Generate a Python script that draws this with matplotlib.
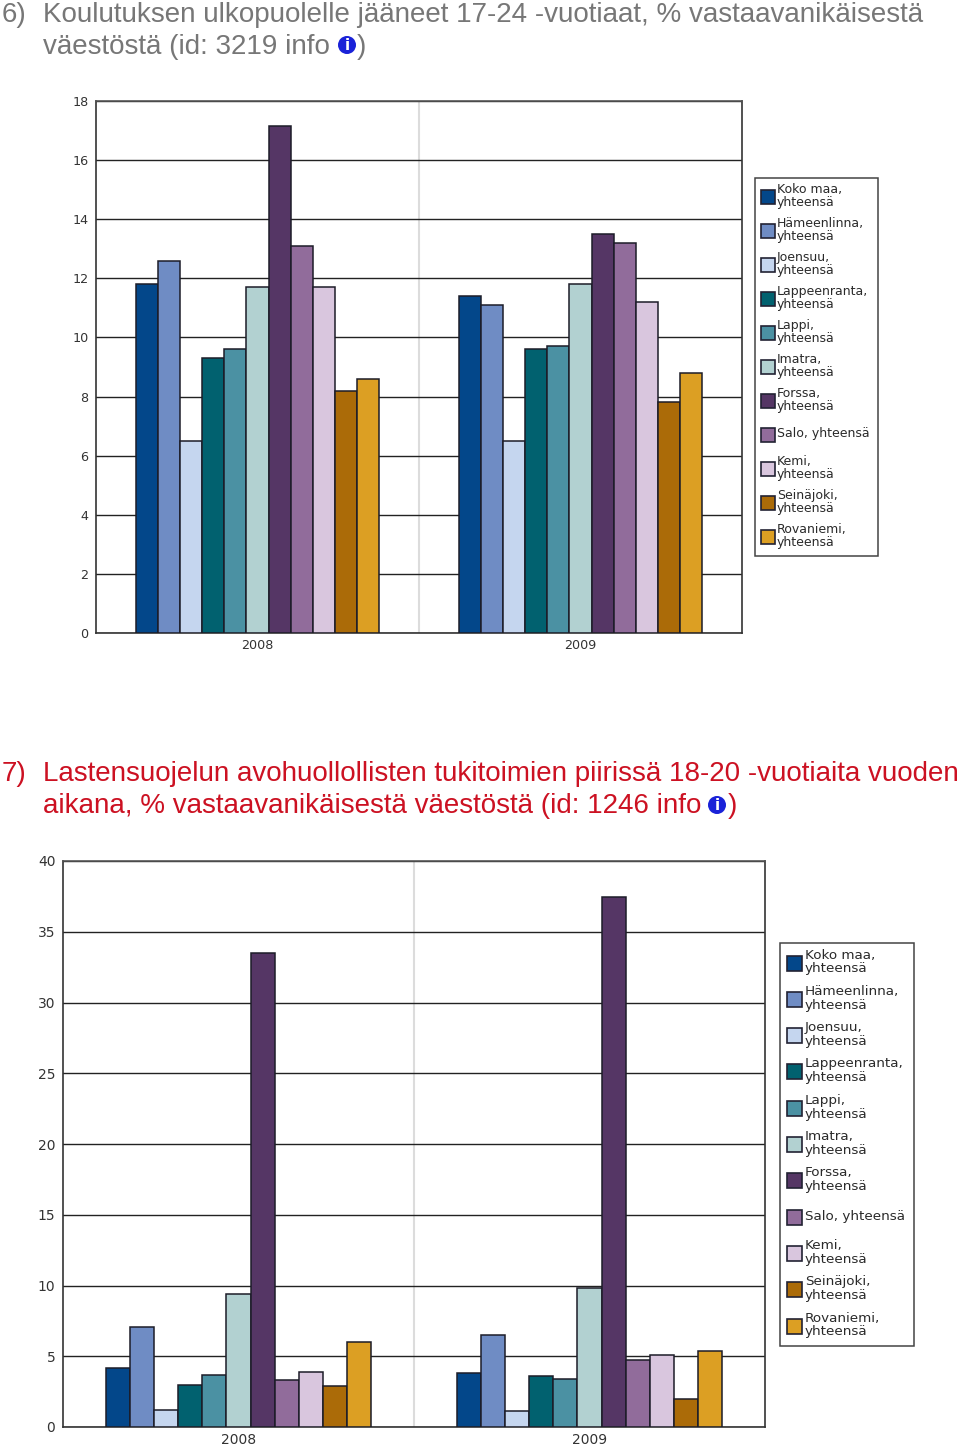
import numpy as np
import matplotlib
matplotlib.use('Agg')
import matplotlib.pyplot as plt
from matplotlib.patches import Rectangle, Ellipse

W = 960
H = 1447

years = ['2008', '2009']
places = ['Koko maa,\nyhteensä', 'Hämeenlinna,\nyhteensä', 'Joensuu,\nyhteensä',
          'Lappeenranta,\nyhteensä', 'Lappi,\nyhteensä', 'Imatra,\nyhteensä',
          'Forssa,\nyhteensä', 'Salo, yhteensä', 'Kemi,\nyhteensä',
          'Seinäjoki,\nyhteensä', 'Rovaniemi,\nyhteensä']
colors = ['#03478a', '#6f8cc4', '#c5d6ef', '#01616f', '#4b91a3', '#b2d1d1',
          '#553665', '#916c9b', '#d9c6de', '#ab6b08', '#dc9f23']

# chart 6
v6_2008 = [11.8, 12.6, 6.5, 9.3, 9.6, 11.7, 17.15, 13.1, 11.7, 8.2, 8.6]
v6_2009 = [11.4, 11.1, 6.5, 9.6, 9.7, 11.8, 13.5, 13.2, 11.2, 7.8, 8.8]
ticks6 = [0, 2, 4, 6, 8, 10, 12, 14, 16, 18]

# chart 7
v7_2008 = [4.2, 7.1, 1.2, 3.0, 3.7, 9.4, 33.5, 3.3, 3.9, 2.9, 6.0]
v7_2009 = [3.8, 6.5, 1.1, 3.6, 3.4, 9.8, 37.45, 4.7, 5.1, 2.0, 5.4]
ticks7 = [0, 5, 10, 15, 20, 25, 30, 35, 40]


def drawChart(box, series, ticks, fs):
    # box is left, top, right, bottom in pixels
    l, t, r, b = box
    ax = fig.add_axes([l / W, 1 - b / H, (r - l) / W, (b - t) / H])
    barW = 0.0684
    for g, vals in enumerate(series):
        for i, v in enumerate(vals):
            x = g + 0.5 + (i - 5) * barW
            ax.bar(x, v, barW, color=colors[i], edgecolor='#1c1c28', linewidth=1.1, zorder=3)
    ax.set_xlim(0, 2)
    ax.set_ylim(ticks[0], ticks[-1])
    ax.set_yticks(ticks)
    ax.set_xticks([0.5, 1.5])
    ax.set_xticklabels(years)
    ax.tick_params(length=0, labelsize=fs, colors='#333333')
    ax.tick_params(axis='y', pad=5.5)
    ax.tick_params(axis='x', pad=4.5)
    ax.grid(axis='y', color='#222222', linewidth=1.0, zorder=1)
    ax.axvline(1, color='#dcdcdc', linewidth=1.5, zorder=1)
    for s in ax.spines.values():
        s.set_color('#333333')
        s.set_linewidth(1.2)
    ax.spines['top'].set_color('#555555')
    return ax


def drawLegend(box, swatchX, swatchW, textX, firstY, stepY, fs):
    l, t, r, b = box
    over.add_patch(Rectangle((l, t), r - l, b - t, fc='white', ec='#444444', lw=1.1))
    for i, name in enumerate(places):
        y = firstY + i * stepY
        over.add_patch(Rectangle((swatchX, y - swatchW / 2), swatchW, swatchW,
                                 fc=colors[i], ec='#222233', lw=1.2))
        over.text(textX, y - 1, name, fontsize=fs, color='#2a2a2a', va='center', ha='left',
                  linespacing=1.08)


def drawInfo(x, y):
    over.add_patch(Ellipse((x, y), 18, 18, fc='#1a22d8', ec='none'))
    over.text(x, y + 0.5, 'i', fontsize=11, fontweight='bold', color='white',
              ha='center', va='center', family='DejaVu Sans')


fig = plt.figure(figsize=(W / 100, H / 100), dpi=100)
fig.patch.set_facecolor('white')

drawChart((96, 101, 742, 633), [v6_2008, v6_2009], ticks6, 9.2)
drawChart((63, 861, 765, 1427), [v7_2008, v7_2009], ticks7, 10)

over = fig.add_axes([0, 0, 1, 1], facecolor='none')
over.set_xlim(0, W)
over.set_ylim(H, 0)
over.axis('off')

drawLegend((755, 178, 878, 556), 761, 14, 777, 197, 34.0, 9.0)
drawLegend((780, 943, 914, 1346), 787, 15, 805, 963, 36.3, 9.7)

titleFont = dict(family='Liberation Sans', fontsize=19.95, va='baseline', ha='left')
grey = '#777777'
red = '#cc1122'
over.text(2, 22, '6)', color=grey, **titleFont)
over.text(43, 22, 'Koulutuksen ulkopuolelle jääneet 17-24 -vuotiaat, % vastaavanikäisestä',
          color=grey, **titleFont)
over.text(43, 54, 'väestöstä (id: 3219 info', color=grey, **titleFont)
over.text(357, 54, ')', color=grey, **titleFont)
drawInfo(347, 45)

over.text(2, 781, '7)', color=red, **titleFont)
over.text(43, 781, 'Lastensuojelun avohuollollisten tukitoimien piirissä 18-20 -vuotiaita vuoden',
          color=red, **titleFont)
over.text(43, 813, 'aikana, % vastaavanikäisestä väestöstä (id: 1246 info', color=red, **titleFont)
over.text(728, 813, ')', color=red, **titleFont)
drawInfo(717, 805)

plt.savefig('out.png', dpi=100)
plt.close()
